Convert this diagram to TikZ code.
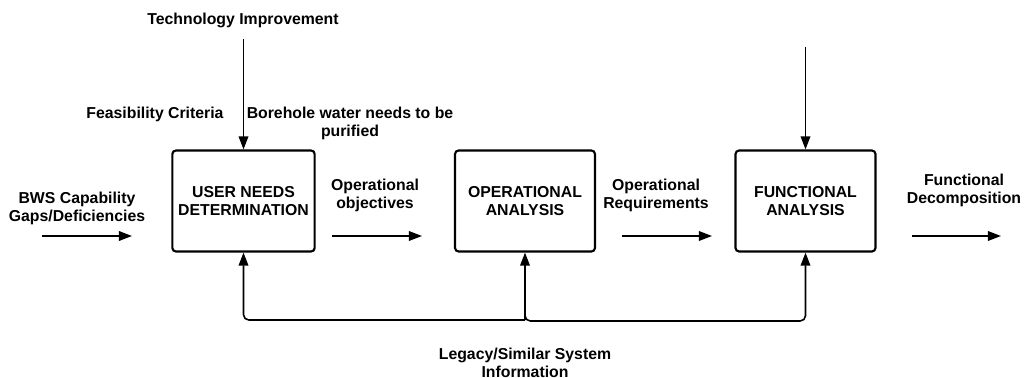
\documentclass[tikz,border=0pt]{standalone}
\usepackage{fontspec}
\setmainfont{Liberation Sans}
\usetikzlibrary{arrows.meta}

\begin{document}
\begin{tikzpicture}[x=0.02cm,y=-0.02cm,
        proc/.style={draw,line width=1.2pt,rounded corners=2pt,minimum width=2.8cm,minimum height=2.02cm,align=center,font=\bfseries\fontsize{9}{10.2}\selectfont},
        lbl/.style={align=center,inner sep=0pt,font=\bfseries\fontsize{9}{10.2}\selectfont},
        flow/.style={line width=0.9pt,-{Triangle[length=7.5pt,width=5.5pt]}}]
        \useasboundingbox (0,0) rectangle (1024,378);
        \node[proc] (und) at (243.5,201) {USER NEEDS\\DETERMINATION};
        \node[proc] (oa) at (525,201) {OPERATIONAL\\ANALYSIS};
        \node[proc] (fa) at (805.5,201) {FUNCTIONAL\\ANALYSIS};
        \node[lbl] (tech) at (243,20) {Technology Improvement};
        \node[lbl] (feas) at (155,114) {Feasibility Criteria};
        \node[lbl] (bore) at (350,123) {Borehole water needs to be\\purified};
        \node[lbl] (bws) at (77,208) {BWS Capability\\Gaps/Deficiencies};
        \node[lbl] (opobj) at (375,195) {Operational\\objectives};
        \node[lbl] (opreq) at (656,195) {Operational\\Requirements};
        \node[lbl] (fdec) at (964,190.5) {Functional\\Decomposition};
        \node[lbl] (legacy) at (525,362.5) {Legacy/Similar System\\Information};
        \coordinate (techin) at (243.5,39);
        \coordinate (fain) at (805.5,47);
        \coordinate (bwsa) at (42,236);
        \coordinate (bwsb) at (132,236);
        \coordinate (obja) at (332,236);
        \coordinate (objb) at (422,236);
        \coordinate (reqa) at (622,236);
        \coordinate (reqb) at (712,236);
        \coordinate (deca) at (912,236);
        \coordinate (decb) at (1001,236);
        \coordinate (junc) at (525,320);
        \draw[flow] (techin) -- (und.north);
        \draw[flow] (fain) -- (fa.north);
        \draw[flow] (bwsa) -- (bwsb);
        \draw[flow] (obja) -- (objb);
        \draw[flow] (reqa) -- (reqb);
        \draw[flow] (deca) -- (decb);
        \draw[flow,rounded corners=3pt] (junc) -| (und.south);
        \draw[flow] (junc) -- (oa.south);
        \draw[flow,rounded corners=3pt] (junc) ++(0,-10) -- ++(0,11) -| (fa.south);
    \end{tikzpicture}
\end{document}
